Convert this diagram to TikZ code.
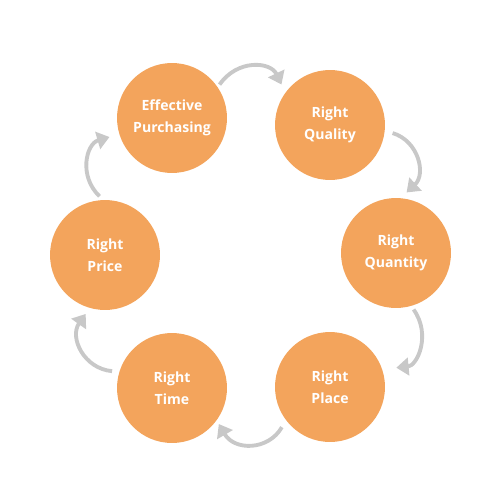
\documentclass[tikz,border=0pt]{standalone}
\usepackage{fontspec}
\setmainfont{Open Sans}
\usetikzlibrary{arrows.meta}
\definecolor{petal}{HTML}{F3A45C}
\definecolor{loopgray}{HTML}{C8C8C8}
\tikzset{
	stage/.style={circle, fill=petal, minimum size=2.2cm, inner sep=0pt, text=white, align=center, font=\fontsize{8}{12.5}\selectfont\bfseries},
	turn/.style={draw=loopgray, line width=2.2pt, -{Triangle[width=10pt,length=7pt]}, bend left=60, looseness=1.3},
}
\begin{document}
\begin{tikzpicture}[x=0.02cm, y=-0.02cm]
		\useasboundingbox (0,0) rectangle (500,500);
		\node[stage] (ep) at (172,118) {Effective\\Purchasing};
		\node[stage] (rqual) at (330,125) {Right\\Quality};
		\node[stage] (rqty) at (396,253) {Right\\Quantity};
		\node[stage] (rplace) at (330,387) {Right\\Place};
		\node[stage] (rtime) at (172,388) {Right\\Time};
		\node[stage] (rprice) at (105,255) {Right\\Price};
		% the loop, clockwise
		\draw[turn, shorten <=1.7pt, shorten >=5pt] (ep.34) to (rqual.144);
		\draw[turn, shorten <=4.5pt, shorten >=4.5pt] (rqual.-6) to (rqty.85);
		\draw[turn, shorten <=2.3pt, shorten >=8pt] (rqty.-74) to (rplace.19);
		\draw[turn, shorten <=4.5pt, shorten >=2.3pt] (rplace.217) to (rtime.-36);
		\draw[turn, shorten <=4pt, shorten >=4pt] (rtime.163) to (rprice.254);
		\draw[turn, shorten <=2.8pt, shorten >=5.7pt] (rprice.92) to (ep.197);
	\end{tikzpicture}
\end{document}
